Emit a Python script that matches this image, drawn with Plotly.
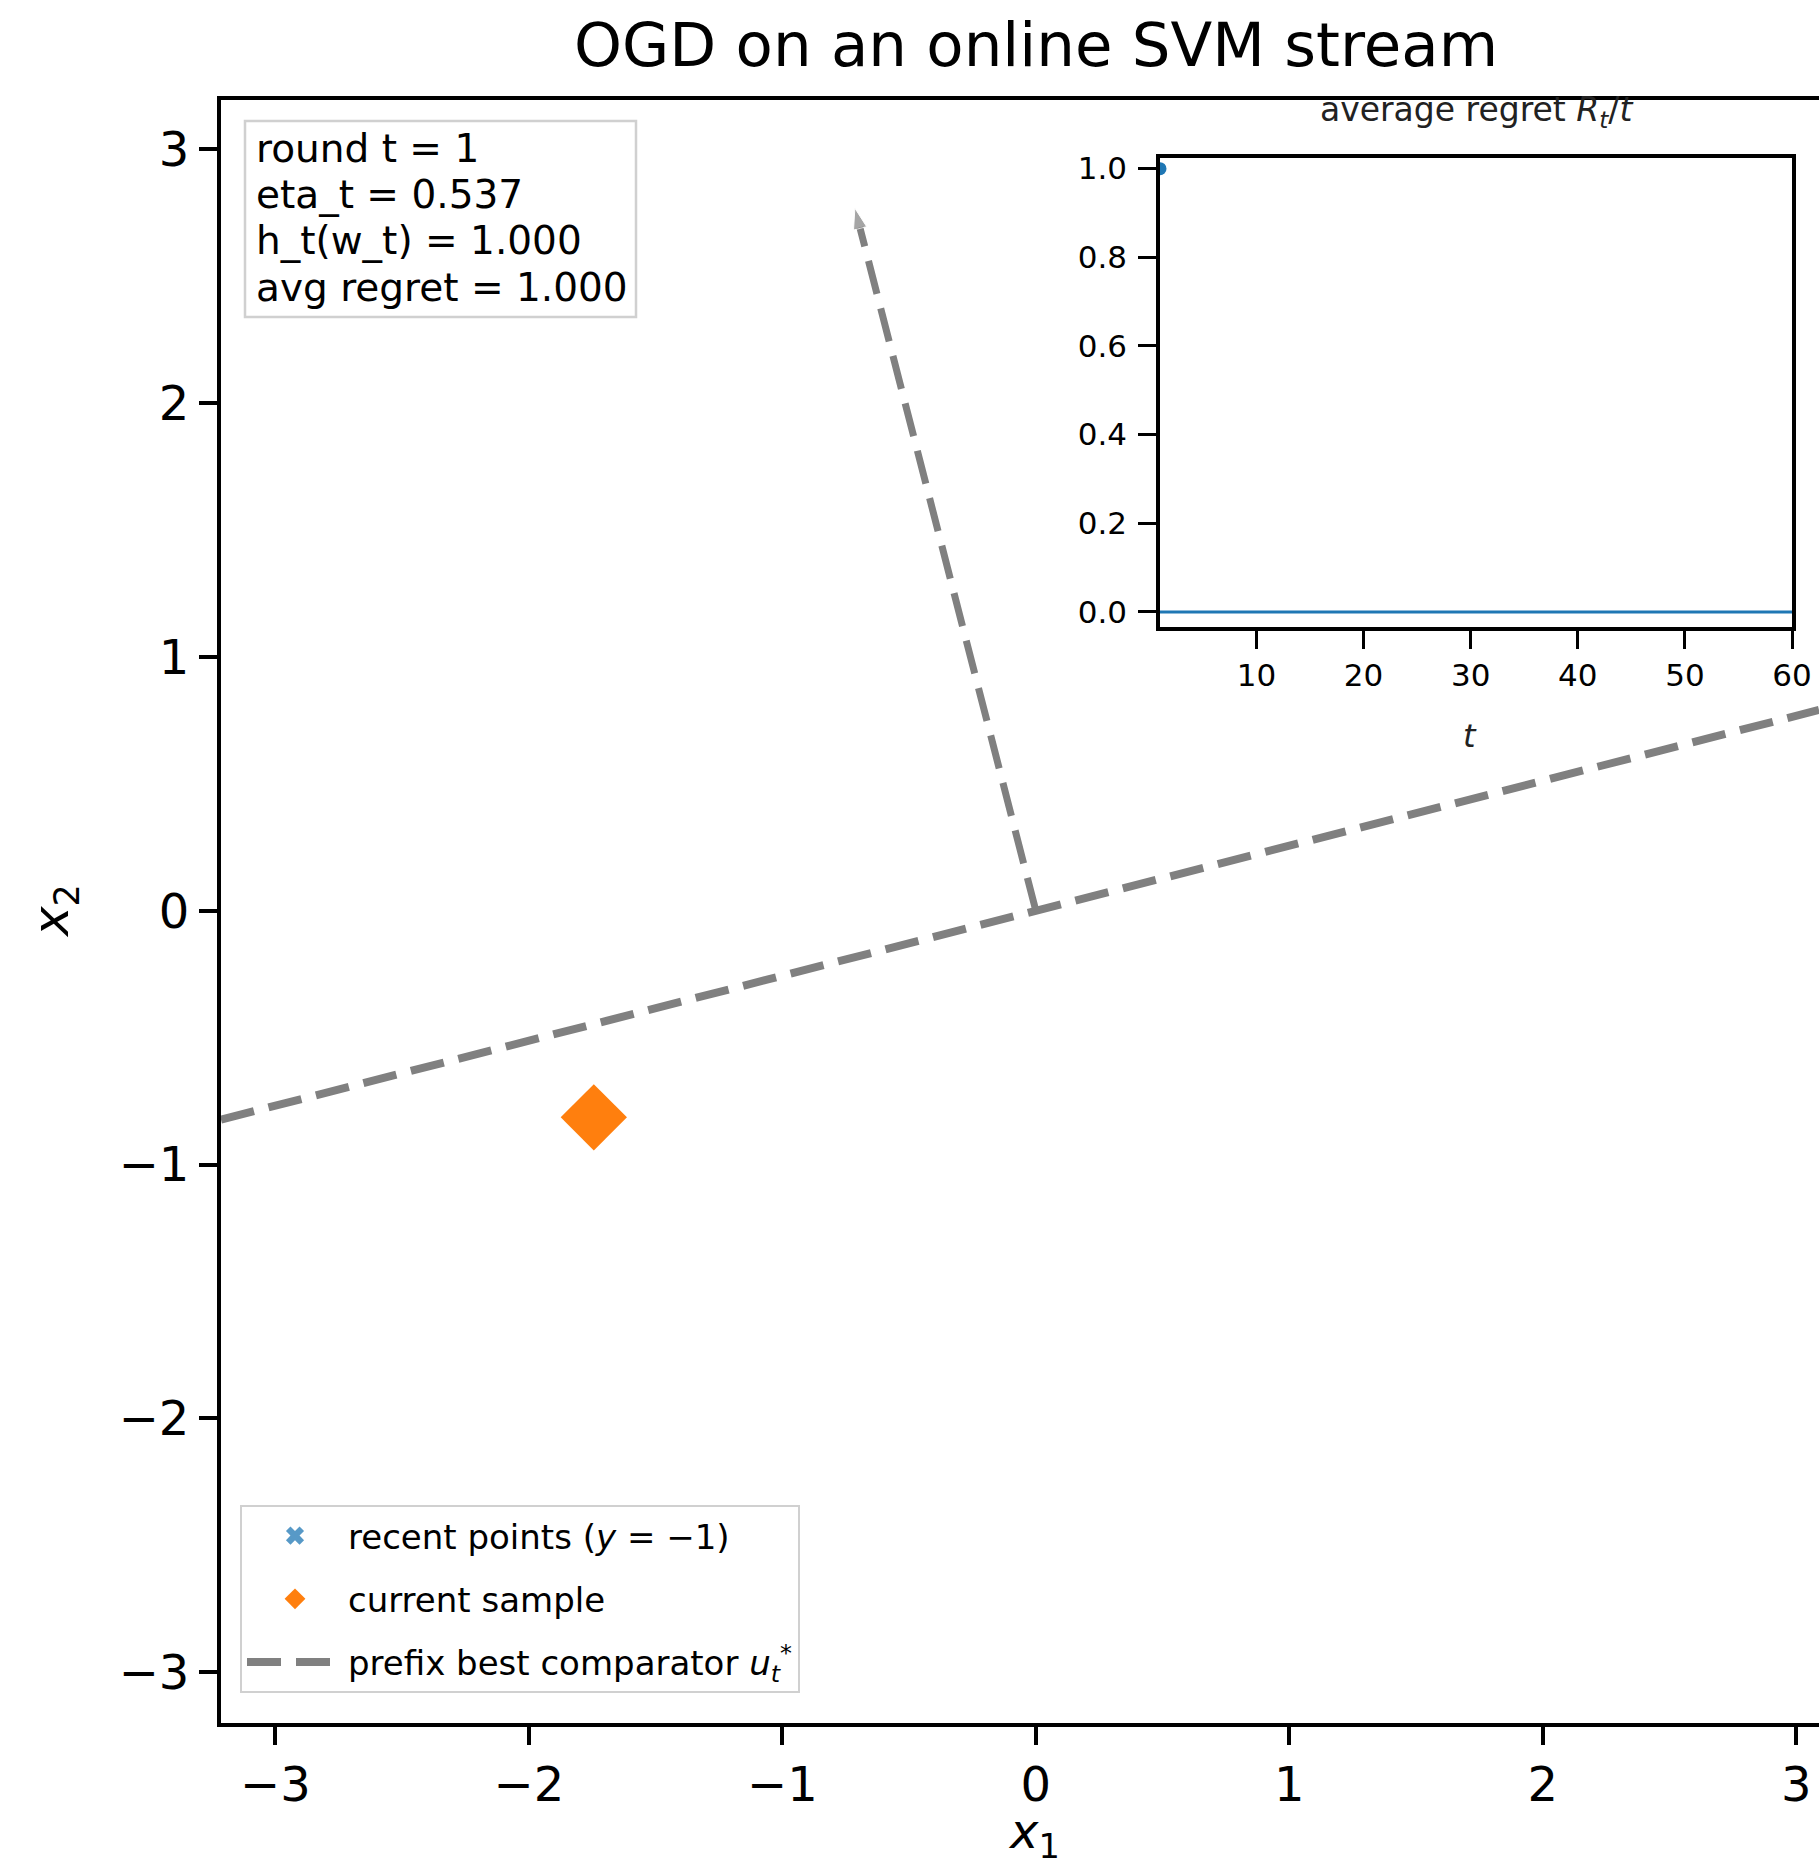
import plotly.graph_objects as go

# ---- data ----
boundary_x = [-3.215, 3.09]
boundary_y = [-0.823, 0.791]
arrow_x = [0.0, -0.714]
arrow_y = [0.0, 2.768]
current_x = [-1.744]
current_y = [-0.814]
recent_x = [None]   # no recent points at round 1 (legend entry only)
recent_y = [None]
regret_t = [1]
regret_avg = [1.0]
x_ticks = [-3, -2, -1, 0, 1, 2, 3]
y_ticks = [-3, -2, -1, 0, 1, 2, 3]
inset_xticks = [10, 20, 30, 40, 50, 60]
inset_yticks = [0.0, 0.2, 0.4, 0.6, 0.8, 1.0]
info_lines = ["round t = 1", "eta_t = 0.537", "h_t(w_t) = 1.000", "avg regret = 1.000"]

FONT = "DejaVu Sans"
GRAY = "#808080"
BLUE = "#1f77b4"
ORANGE = "#ff7f0e"

W, H = 1819, 1871
L, R, T, B = 221, 0, 100, 148
PW = W - L - R
PH = H - T - B


def px_x(p):
    return (p - L) / PW


def px_y(p):
    return (H - B - p) / PH


def minus(v):
    return ("−" + str(-v)) if v < 0 else str(v)


fig = go.Figure()

fig.add_trace(go.Scatter(
    x=recent_x, y=recent_y, mode="markers", name="recent points (<i>y</i> = −1)",
    legendgroup="a",
    marker=dict(symbol="x", color=BLUE, opacity=0.75, size=16, line=dict(width=0)),
    xaxis="x", yaxis="y"))
fig.add_trace(go.Scatter(
    x=current_x, y=current_y, mode="markers", name="current sample",
    legendgroup="b",
    marker=dict(symbol="diamond", color=ORANGE, size=51, line=dict(width=0)),
    xaxis="x", yaxis="y"))
fig.add_trace(go.Scatter(
    x=boundary_x, y=boundary_y, mode="lines",
    name="prefix best comparator <i>u</i><sub><i>t</i></sub><sup>*</sup>",
    legendgroup="c",
    line=dict(color=GRAY, width=8, dash="34px,15px"),
    xaxis="x", yaxis="y"))
fig.add_trace(go.Scatter(
    x=arrow_x, y=arrow_y, mode="lines+markers", showlegend=False,
    line=dict(color=GRAY, width=7, dash="34px,15px"),
    marker=dict(symbol=["circle", "arrow"], size=[0, 22], color=GRAY, angleref="previous"),
    xaxis="x", yaxis="y"))

# inset
fig.add_trace(go.Scatter(
    x=regret_t, y=regret_avg, mode="lines+markers", showlegend=False,
    line=dict(color=BLUE, width=3), marker=dict(color=BLUE, size=13),
    cliponaxis=True, xaxis="x2", yaxis="y2"))

fig.add_shape(type="line", xref="x2 domain", yref="y2", x0=0, x1=1, y0=0, y1=0,
              line=dict(color=BLUE, width=3))

axis_common = dict(showgrid=False, zeroline=False, showline=True, linecolor="black",
                   ticks="outside", tickcolor="black", automargin=False)

fig.update_layout(
    width=W, height=H,
    margin=dict(l=L, r=R, t=T, b=B, autoexpand=False),
    paper_bgcolor="white", plot_bgcolor="white",
    font=dict(family=FONT, color="black"),
    title=dict(text="OGD on an online SVM stream", xref="container", x=1036 / W, xanchor="center",
               yref="container", y=1 - 45 / H, yanchor="middle",
               font=dict(size=61, family=FONT, color="black")),
    xaxis=dict(**axis_common, domain=[0, 1], range=[-3.215, 3.09], linewidth=4, mirror=True,
               ticklen=18, tickwidth=3.5, tickvals=x_ticks,
               ticktext=[minus(v) for v in x_ticks],
               tickfont=dict(size=48), ticklabelstandoff=-2),
    yaxis=dict(**axis_common, domain=[0, 1], range=[-3.2, 3.194], linewidth=4, mirror=False,
               ticklen=18, tickwidth=3.5, tickvals=y_ticks,
               ticktext=[minus(v) for v in y_ticks],
               tickfont=dict(size=48), ticklabelstandoff=0),
    xaxis2=dict(**axis_common, domain=[px_x(1160), px_x(1792)], range=[1, 60], anchor="y2",
                mirror=True, linewidth=3.5, ticklen=18, tickwidth=3, tickvals=inset_xticks,
                tickfont=dict(size=31), ticklabelstandoff=0),
    yaxis2=dict(**axis_common, domain=[px_y(627), px_y(158)], range=[-0.034, 1.024], anchor="x2",
                mirror=True, linewidth=3.5, ticklen=18, tickwidth=3, tickvals=inset_yticks,
                tickformat=".1f", tickfont=dict(size=31), ticklabelstandoff=5),
    legend=dict(x=px_x(240), y=px_y(1505), xanchor="left", yanchor="top",
                bgcolor="rgba(255,255,255,0.8)", bordercolor="#d0d0d0", borderwidth=2,
                font=dict(size=34, family=FONT), itemwidth=96, tracegroupgap=16,
                traceorder="grouped"),
    showlegend=True,
)

# info box: frame + one annotation per line (matplotlib-like line spacing)
box_left, box_top, box_right, box_bottom = 245, 121, 636, 317
fig.add_shape(type="rect", xref="paper", yref="paper",
              x0=px_x(box_left), x1=px_x(box_right), y0=px_y(box_bottom), y1=px_y(box_top),
              line=dict(color="#d0d0d0", width=2.5), fillcolor="white", layer="above")
line_centers = [148, 194, 241, 287]
for txt, yc in zip(info_lines, line_centers):
    fig.add_annotation(text=txt, xref="paper", yref="paper",
                       x=px_x(254), y=px_y(yc), xanchor="left", yanchor="middle", align="left",
                       showarrow=False, font=dict(size=39, family=FONT, color="black"))

# axis titles
fig.add_annotation(text="<i>x</i><sub>1</sub>", xref="paper", yref="paper",
                   x=px_x(1034), y=px_y(1834), xanchor="center", yanchor="middle",
                   showarrow=False, font=dict(size=48, family=FONT, color="black"))
fig.add_annotation(text="<i>x</i><sub>2</sub>", xref="paper", yref="paper",
                   x=px_x(54), y=px_y(911), xanchor="center", yanchor="middle", textangle=-90,
                   showarrow=False, font=dict(size=50, family=FONT, color="black"))
fig.add_annotation(text="<i>t</i>", xref="paper", yref="paper",
                   x=px_x(1470), y=px_y(736), xanchor="center", yanchor="middle",
                   showarrow=False, font=dict(size=32, family=FONT, color="#222222"))
# inset title
fig.add_annotation(text="average regret <i>R</i><sub><i>t</i></sub>/<i>t</i>", xref="paper", yref="paper",
                   x=px_x(1476), y=px_y(112), xanchor="center", yanchor="middle",
                   showarrow=False, font=dict(size=33, family=FONT, color="#222222"))

fig.write_html("out.html")
